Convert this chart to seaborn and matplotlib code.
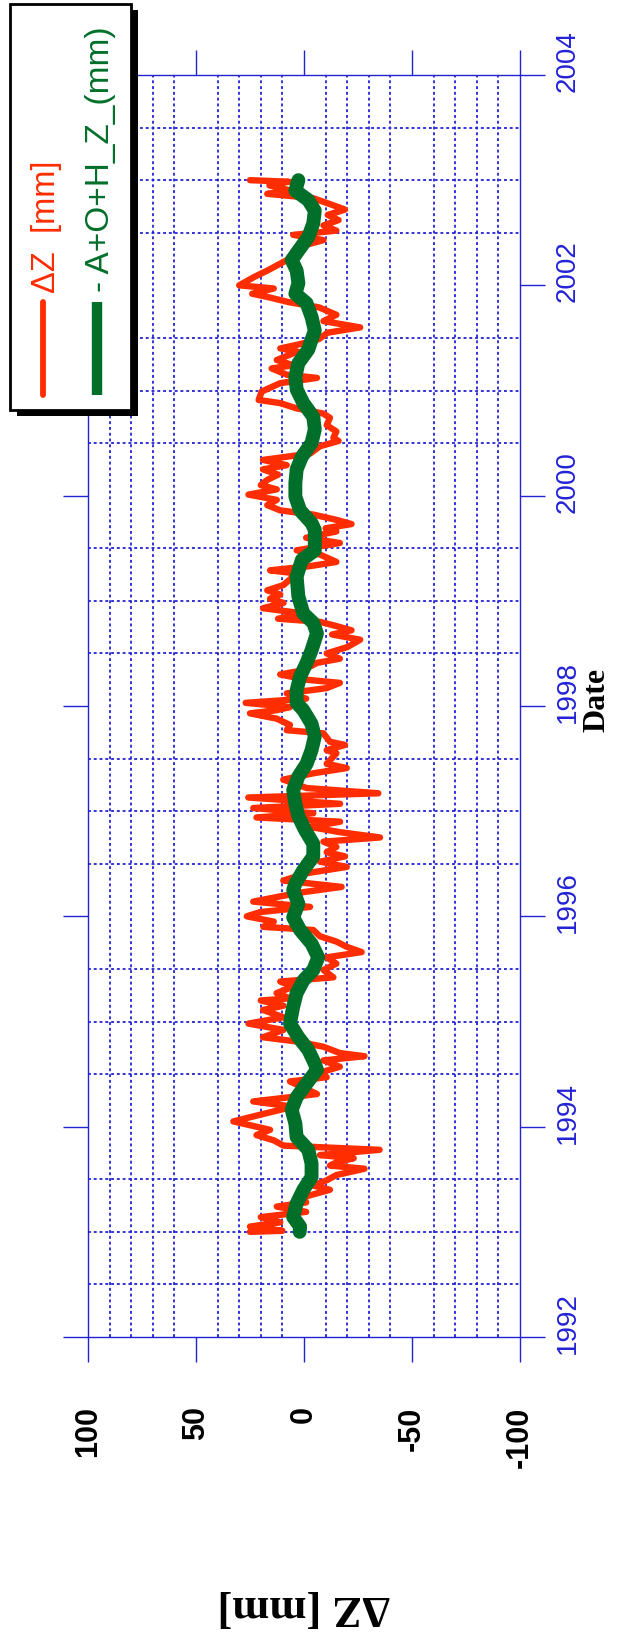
import numpy as np
import matplotlib
matplotlib.use("Agg")
import matplotlib.pyplot as plt
from matplotlib.ticker import MultipleLocator, FixedLocator
from matplotlib.patches import Rectangle
from matplotlib.lines import Line2D
from matplotlib.transforms import ScaledTranslation
import seaborn as sns

# ---------------- data ----------------
red_dates = [2003.00, 2002.985, 2002.95, 2002.90, 2002.87, 2002.83, 2002.78, 2002.72, 2002.67, 2002.62,
             2002.57, 2002.52, 2002.48, 2002.43, 2002.38, 2002.32, 2002.25, 2002.14, 2002.08, 2002.00,
             2001.97, 2001.92, 2001.89, 2001.84, 2001.79, 2001.72, 2001.66, 2001.60, 2001.55, 2001.49,
             2001.44, 2001.40, 2001.37, 2001.29, 2001.24, 2001.21, 2001.15, 2001.12, 2001.07, 2000.99,
             2000.91, 2000.88, 2000.83, 2000.78, 2000.74, 2000.67, 2000.61, 2000.55, 2000.52, 2000.47,
             2000.40, 2000.34, 2000.29, 2000.25, 2000.20, 2000.15, 2000.10, 2000.06, 2000.01, 1999.96,
             1999.91, 1999.86, 1999.82, 1999.77, 1999.73, 1999.69, 1999.66, 1999.60, 1999.55, 1999.48,
             1999.44, 1999.37, 1999.33, 1999.29, 1999.26, 1999.15, 1999.10, 1999.06, 1999.02, 1998.98,
             1998.93, 1998.88, 1998.83, 1998.80, 1998.76, 1998.72, 1998.68, 1998.63, 1998.56, 1998.50,
             1998.45, 1998.41, 1998.34, 1998.30, 1998.25, 1998.22, 1998.17, 1998.12, 1998.07, 1998.03,
             1997.99, 1997.96, 1997.93, 1997.88, 1997.82, 1997.77, 1997.74, 1997.66, 1997.63, 1997.58,
             1997.55, 1997.45, 1997.41, 1997.36, 1997.30, 1997.22, 1997.17, 1997.13, 1997.07, 1997.03,
             1996.98, 1996.94, 1996.90, 1996.85, 1996.80, 1996.75, 1996.71, 1996.66, 1996.61, 1996.57,
             1996.52, 1996.47, 1996.41, 1996.34, 1996.28, 1996.23, 1996.19, 1996.14, 1996.09, 1996.04,
             1996.00, 1995.95, 1995.90, 1995.87, 1995.81, 1995.76, 1995.71, 1995.66, 1995.61, 1995.55,
             1995.49, 1995.42, 1995.38, 1995.33, 1995.27, 1995.22, 1995.20, 1995.15, 1995.11, 1995.04,
             1994.98, 1994.92, 1994.85, 1994.81, 1994.76, 1994.70, 1994.67, 1994.63, 1994.57, 1994.50,
             1994.47, 1994.43, 1994.36, 1994.31, 1994.24, 1994.19, 1994.12, 1994.05, 1994.00, 1993.97,
             1993.92, 1993.87, 1993.82, 1993.78, 1993.73, 1993.70, 1993.66, 1993.63, 1993.60, 1993.54,
             1993.49, 1993.44, 1993.40, 1993.33, 1993.28, 1993.24, 1993.19, 1993.14, 1993.09, 1993.05,
             1993.01, 1993.00]
red_dz = [25, 7, 16, 6, 17, -4, -11, -19, -11, -16,
          -9, -15, 5, -9, 0, 2, 7, 17, 23, 30,
          14, 24, 17, 7, -7, -15, -9, -26, -11, -7,
          2, 11, 3, 12.6, 5, 15, 8, -6, 11, 19.6,
          21, 11, 3.4, -9, -12, -10.5, -15, -13.6, -16, -7.4,
          -2.8, 19, 8, 19, 12, 17, 20, 12.6, 25.7, 12.6,
          17, 11, -4.3, -15, -22, -10, -15, -1, -16.6, 3.4,
          -7.4, -15, -2.8, 15.7, 3.4, 9.5, 17, 11, 15.7, 9.5,
          19, 0.3, 12, -7.4, -15, -22, -13, -26, -20, -10.5,
          -16.6, -6, 0.3, 11, -1, -16.6, -10.5, 8, -1, 27,
          6.5, 12.7, 25, 12.7, 6.5, 8, -9, -12, -19, -10.5,
          -15, -10.5, -19.8, -4.3, 9.6, -1.2, -34.4, 25.8, -16.7, 23.5,
          -4.3, 22, -16.7, -2.8, -16.7, -35.2, -9, -15, -10.5, -19,
          -7.4, -19.8, -1.2, 9.6, -17.4, 0.3, 11, 23.5, -2.8, 20.4,
          26.5, 14, 18.8, -4.3, -7.4, -15, -19.8, -26.7, -10.5, -15,
          -9, -13.6, 11, 5, 12.7, 6.5, 20, 9.5, 19, 9.5,
          25.7, 9.5, 19, 3.4, -9, -16.6, -28, -9, -16.6, -5,
          -10.5, 6.5, -1, -6, 23.5, 5, 19, 32.7, 22, 15.7,
          22, 14, 9.5, -35, -7.4, -23, -15, -12, -28, -15,
          -10.5, -4.3, -12, 0.3, -1, 12.6, -1, 20, 11, 25,
          10, 25]

green_dates = [2003.00, 2002.90, 2002.81, 2002.71, 2002.59, 2002.46, 2002.33, 2002.24, 2002.14, 2002.02,
               2001.92, 2001.83, 2001.70, 2001.57, 2001.44, 2001.39, 2001.26, 2001.13, 2001.01, 2000.88,
               2000.75, 2000.63, 2000.50, 2000.37, 2000.25, 2000.12, 1999.99, 1999.86, 1999.74, 1999.675,
               1999.48, 1999.39, 1999.23, 1999.04, 1998.88, 1998.79, 1998.69, 1998.53, 1998.41, 1998.28,
               1998.15, 1998.03, 1997.96, 1997.83, 1997.71, 1997.58, 1997.45, 1997.33, 1997.20, 1997.07,
               1996.95, 1996.82, 1996.69, 1996.57, 1996.44, 1996.31, 1996.25, 1996.12, 1995.99, 1995.87,
               1995.74, 1995.61, 1995.49, 1995.39, 1995.27, 1995.14, 1994.98, 1994.85, 1994.73, 1994.60,
               1994.54, 1994.41, 1994.28, 1994.16, 1994.03, 1993.90, 1993.78, 1993.65, 1993.52, 1993.40,
               1993.27, 1993.14, 1993.05, 1993.00]
green_dz = [2.6, 4, -2, -5, -4.3, -2, 2.6, 5.7, 3.4, 2.6,
            4, -1.2, -3.5, -5, -2.8, -2, 2.6, 4, 3.4, 0.3,
            -4.3, -5, -3.5, 1, 3.4, 4, 4, 1.8, -3.5, -5,
            -5, 1, 3.4, 2.6, 0.3, -4.3, -6, -3.5, -1.2, 1.8,
            3.4, 3.4, 0.3, -3.5, -5, -3.5, -1.2, 2.6, 5, 4,
            2.6, -0.5, -4.3, -4.3, 0.3, 4, 5, 2.6, 5, 1.8,
            -3.5, -6.6, -4.3, 0.3, 3.4, 5, 6.5, 2.6, -2, -5,
            -6, -1.2, 3.4, 5.7, 4, 3.4, -2, -3.5, -3.5, 0.3,
            3.4, 5, 1.8, 2]

dz_ticks = [100, 50, 0, -50, -100]
date_ticks = [1992, 1994, 1996, 1998, 2000, 2002, 2004]
legend_labels = ["\u0394Z  [mm]", "- A+O+H_Z_(mm)"]

# ---------------- style ----------------
sns.set_style("white")
plt.rcParams['font.family'] = ['Liberation Sans', 'DejaVu Sans']
plt.rcParams['text.color'] = 'black'
plt.rcParams['axes.labelcolor'] = 'black'

BLUE = '#2323d6'
RED = '#ff2d00'
GREEN = '#006f2a'

W, H = 618, 1637
fig = plt.figure(figsize=(W / 100, H / 100), dpi=100)
ax = fig.add_axes([88 / W, (H - 1337) / H, 432 / W, 1262 / H])

sns.lineplot(x=red_dz, y=red_dates, orient='y', sort=True, estimator=None,
             color=RED, linewidth=4.6, ax=ax)
sns.lineplot(x=green_dz, y=green_dates, orient='y', sort=True, estimator=None,
             color=GREEN, linewidth=10, ax=ax)

ax.set_xlim(100, -100)
ax.set_ylim(1992, 2004)

ax.xaxis.set_major_locator(FixedLocator(dz_ticks))
ax.yaxis.set_major_locator(FixedLocator(date_ticks))
ax.xaxis.set_minor_locator(MultipleLocator(10))
ax.yaxis.set_minor_locator(MultipleLocator(0.5))

ax.tick_params(axis='x', which='major', direction='out', length=18, width=1.0, color=BLUE,
               bottom=True, top=True, labelbottom=True, labeltop=False, pad=32,
               labelsize=22, labelcolor='black', labelrotation=90)
ax.tick_params(axis='y', which='major', direction='out', length=18, width=1.0, color=BLUE,
               left=True, right=True, labelleft=False, labelright=True, pad=7,
               labelsize=20, labelcolor=BLUE, labelrotation=90)
ax.tick_params(which='minor', length=0)

ax.set_xticks(dz_ticks)
ax.set_xticklabels([str(t) for t in dz_ticks])
for lab in ax.get_xticklabels():
    lab.set_fontweight('bold')
    lab.set_va('top')
ax.set_yticks(date_ticks)
ax.set_yticklabels([str(t) for t in date_ticks])
shift_up = ScaledTranslation(0, 14 / 100, fig.dpi_scale_trans)
for tk in ax.yaxis.get_major_ticks():
    for lab in (tk.label1, tk.label2):
        lab.set_va('center')
        lab.set_transform(lab.get_transform() + shift_up)

ax.grid(False, which='major')
ax.grid(True, which='minor', color=BLUE, linestyle=(0, (1.6, 1.6)), linewidth=1.3)

for sp in ax.spines.values():
    sp.set_color(BLUE)
    sp.set_linewidth(1.0)
    sp.set_visible(True)

ax.set_xlabel("\u0394Z [mm]", rotation=180, fontsize=32, fontweight='bold', color='black',
              family=['Liberation Serif', 'DejaVu Serif'], va='center')
ax.xaxis.set_label_coords(0.5, (1337 - 1607) / 1262)
ax.yaxis.set_label_position('right')
ax.set_ylabel("Date", rotation=90, fontsize=23, fontweight='bold', color='black',
              family=['Liberation Serif', 'DejaVu Serif'], va='center', ha='center')
ax.yaxis.set_label_coords((597 - 88) / 432, 0.505)

# ---------------- legend (drawn rotated, like the reference) ----------------
def fx(x):
    return x / W

def fy(y):
    return 1 - y / H

fig.add_artist(Rectangle((fx(17), fy(416)), 121 / W, 406 / H, transform=fig.transFigure,
                         facecolor='black', edgecolor='black', lw=0, zorder=5))
fig.add_artist(Rectangle((fx(10), fy(410)), 121 / W, 406 / H, transform=fig.transFigure,
                         facecolor='white', edgecolor='black', lw=2, zorder=6))
fig.add_artist(Line2D([fx(43), fx(43)], [fy(302), fy(395)], transform=fig.transFigure,
                      color=RED, lw=4.2, zorder=7))
fig.add_artist(Line2D([fx(97), fx(97)], [fy(302), fy(395)], transform=fig.transFigure,
                      color=GREEN, lw=7.5, zorder=7, solid_capstyle='butt'))
fig.text(fx(47), fy(293), legend_labels[0], rotation=90, ha='center', va='bottom',
         fontsize=23.5, color=RED, zorder=8)
fig.text(fx(101), fy(292), legend_labels[1], rotation=90, ha='center', va='bottom',
         fontsize=24, color=GREEN, zorder=8)

fig.savefig("out.png", dpi=100)
